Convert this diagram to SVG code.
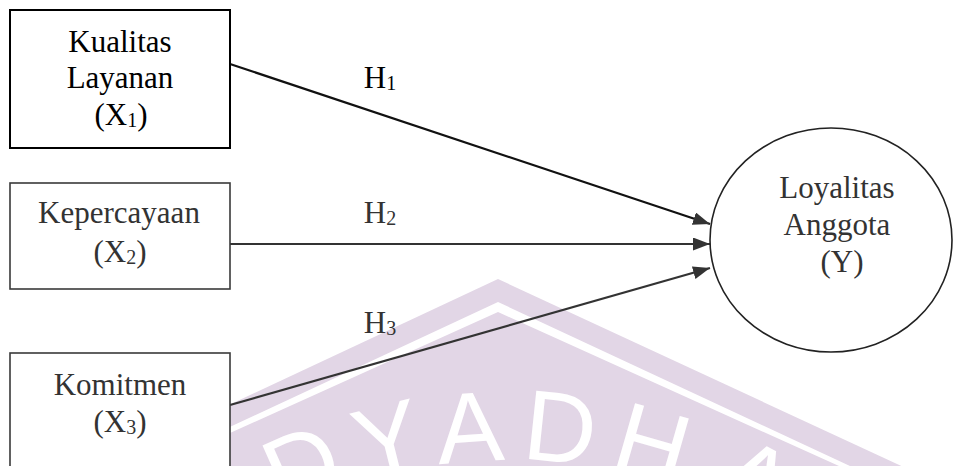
<svg xmlns="http://www.w3.org/2000/svg" width="954" height="466" viewBox="0 0 954 466">
  <defs>
    <style>
      .lbl { font-family: "Liberation Serif", "Times New Roman", serif; font-size: 31px; text-anchor: middle; fill: #333; }
      .dark { fill: #000; }
      .sub { font-size: 20px; }
      .box { fill: #fff; stroke: #3a3a3a; stroke-width: 1.6; }
      .box1 { stroke: #000; stroke-width: 2; }
      .conn { stroke: #333; stroke-width: 2.2; fill: none; marker-end: url(#arrow); }
      .wm { fill: #e2d6e6; }
      .wmtxt { font-family: "Liberation Sans", Arial, sans-serif; font-size: 100px; fill: #fff; text-anchor: middle; }
    </style>
    <marker id="arrow" markerUnits="userSpaceOnUse" markerWidth="18" markerHeight="14" refX="17" refY="6.5" orient="auto">
      <path d="M0,0 L17,6.5 L0,13 Z" fill="#333"/>
    </marker>
  </defs>

  <rect width="954" height="466" fill="#fff"/>

  <g id="watermark">
    <path class="wm" d="M498,279 L910,470 L90,470 Z"/>
    <path fill="#fff" d="M498,302 L880,480 L870,480 L498,312 L126,480 L116,480 Z"/>
    <text class="wmtxt" transform="translate(316,497) rotate(-24)">D</text>
    <text class="wmtxt" transform="translate(396,473) rotate(-14)">Y</text>
    <text class="wmtxt" transform="translate(472,462) rotate(-4)">A</text>
    <text class="wmtxt" transform="translate(557,462) rotate(6)">D</text>
    <text class="wmtxt" transform="translate(643,477) rotate(16)">H</text>
    <text class="wmtxt" transform="translate(740,510) rotate(27)">A</text>
  </g>

  <g id="connectors">
    <line class="conn" x1="230" y1="64" x2="710" y2="224" style="stroke:#111"/>
    <line class="conn" x1="230" y1="244" x2="710" y2="244"/>
    <line class="conn" x1="230" y1="405" x2="710" y2="268"/>
    <text class="lbl dark" x="380" y="88">H<tspan class="sub" dy="2">1</tspan></text>
    <text class="lbl" x="380" y="223">H<tspan class="sub" dy="2">2</tspan></text>
    <text class="lbl" x="380" y="333">H<tspan class="sub" dy="2">3</tspan></text>
  </g>

  <g id="x1">
    <rect class="box box1" x="10" y="10" width="220" height="138"/>
    <text class="lbl dark" x="120" y="52">Kualitas</text>
    <text class="lbl dark" x="120" y="88">Layanan</text>
    <text class="lbl dark" x="121" y="125">(X<tspan class="sub" dy="2">1</tspan><tspan dy="-2">)</tspan></text>
  </g>

  <g id="x2">
    <rect class="box" x="10" y="183" width="220" height="106"/>
    <text class="lbl" x="119" y="223">Kepercayaan</text>
    <text class="lbl" x="120" y="262">(X<tspan class="sub" dy="2">2</tspan><tspan dy="-2">)</tspan></text>
  </g>

  <g id="x3">
    <rect class="box" x="10" y="353" width="220" height="125"/>
    <text class="lbl" x="120" y="395">Komitmen</text>
    <text class="lbl" x="120" y="432">(X<tspan class="sub" dy="2">3</tspan><tspan dy="-2">)</tspan></text>
  </g>

  <g id="y">
    <ellipse cx="831" cy="240" rx="121" ry="112" fill="#fff" stroke="#222" stroke-width="1.6"/>
    <text class="lbl" x="837" y="198">Loyalitas</text>
    <text class="lbl" x="837" y="235">Anggota</text>
    <text class="lbl" x="842" y="272">(Y)</text>
  </g>
</svg>
